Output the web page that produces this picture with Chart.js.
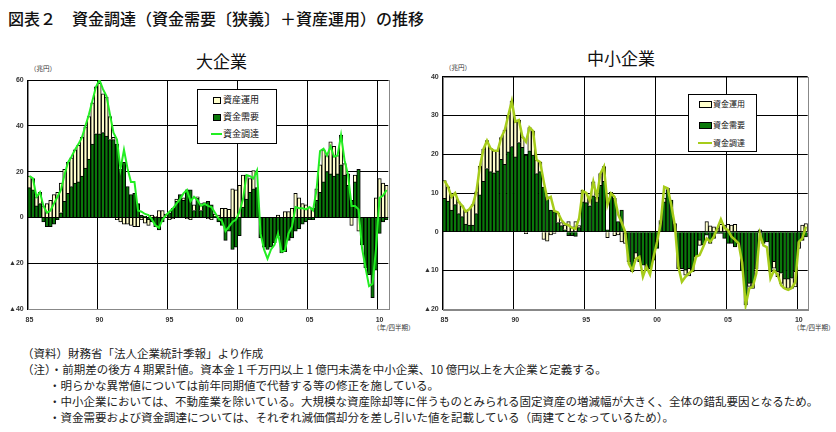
<!DOCTYPE html>
<html lang="ja">
<head>
<meta charset="UTF-8">
<title>図表２ 資金調達の推移</title>
<script src="https://cdn.jsdelivr.net/npm/chart.js@4.4.1/dist/chart.umd.min.js"></script>
<style>
  body { margin: 0; background: #fff; color: #111; font-family: "Noto Sans CJK JP", sans-serif; }
  #page { position: relative; width: 836px; height: 432px; overflow: hidden; }
  .t { position: absolute; white-space: pre; }
  canvas { position: absolute; }
  .legend { position: absolute; border: 1px solid #000; background: #fff; box-sizing: border-box; }
  .legend .row { position: absolute; left: 0; right: 0; height: 12px; }
  .legend .sw { position: absolute; top: 3px; height: 5px; border: 1px solid #000; }
  .legend .ln { position: absolute; top: 5px; height: 2px; }
  .legend .lb { position: absolute; top: 0; line-height: 12px; white-space: pre; color: #111; }
  .note { font-size: 11.5px; line-height: 16px; color: #222; }
</style>
</head>
<body>
<div id="page">
  <div class="t" style="left:8px;top:8px;font-size:16px;line-height:20px;font-weight:500;">図表２　資金調達（資金需要〔狭義〕＋資産運用）の推移</div>

  <div class="t" style="left:196px;top:50px;font-size:17px;line-height:22px;">大企業</div>
  <div class="t" style="left:587px;top:47px;font-size:17px;line-height:22px;">中小企業</div>

  <div class="t" style="left:30px;top:64px;font-size:6.5px;line-height:9px;color:#333;">（兆円）</div>
  <div class="t" style="left:445px;top:63px;font-size:6.5px;line-height:9px;color:#333;">（兆円）</div>
  <div class="t" style="left:373px;top:323px;font-size:6.5px;line-height:9px;color:#333;">（年/四半期）</div>
  <div class="t" style="left:793px;top:323px;font-size:6.5px;line-height:9px;color:#333;">（年/四半期）</div>

  <canvas id="large" width="400" height="260" style="left:0;top:70px;"></canvas>
  <canvas id="sme" width="420" height="264" style="left:410px;top:66px;"></canvas>

  <div class="legend" style="left:197px;top:89px;width:80px;height:55px;">
    <div class="row" style="top:4px;"><div class="sw" style="left:15px;width:6px;background:#ffffcc;"></div><div class="lb" style="left:25px;font-size:9px;">資産運用</div></div>
    <div class="row" style="top:21px;"><div class="sw" style="left:15px;width:6px;background:#0a780a;"></div><div class="lb" style="left:25px;font-size:9px;">資金需要</div></div>
    <div class="row" style="top:38px;"><div class="ln" style="left:13px;width:11px;background:#22ee22;"></div><div class="lb" style="left:25px;font-size:9px;">資金調達</div></div>
  </div>

  <div class="legend" style="left:688px;top:94px;width:69px;height:58px;">
    <div class="row" style="top:3px;"><div class="sw" style="left:10px;width:11px;background:#ffffcc;"></div><div class="lb" style="left:24px;font-size:8px;">資金運用</div></div>
    <div class="row" style="top:24px;"><div class="sw" style="left:10px;width:11px;background:#0a780a;"></div><div class="lb" style="left:24px;font-size:8px;">資金需要</div></div>
    <div class="row" style="top:42px;"><div class="ln" style="left:9px;width:14px;background:#a6cc1a;"></div><div class="lb" style="left:24px;font-size:8px;">資金調達</div></div>
  </div>

  <div class="t note" style="left:22px;top:345px;">（資料）財務省「法人企業統計季報」より作成</div>
  <div class="t note" style="left:22px;top:361px;">（注）・前期差の後方 4 期累計値。資本金 1 千万円以上 1 億円未満を中小企業、10 億円以上を大企業と定義する。</div>
  <div class="t note" style="left:49px;top:377px;">・明らかな異常値については前年同期値で代替する等の修正を施している。</div>
  <div class="t note" style="left:49px;top:393px;">・中小企業においては、不動産業を除いている。大規模な資産除却等に伴うものとみられる固定資産の増減幅が大きく、全体の錯乱要因となるため。</div>
  <div class="t note" style="left:49px;top:409px;">・資金需要および資金調達については、それぞれ減価償却分を差し引いた値を記載している（両建てとなっているため）。</div>
</div>

<script>
  // ---------------- data (quarterly, 1985 Q1 - 2010 Q3) ---------------- //
  const yearTicks = ['85', '90', '95', '00', '05', '10'];  // one every 20 quarters
  const quarters = [];
  for (let i = 0; i < 103; i++) {
    quarters.push((1985 + Math.floor(i / 4)) + 'Q' + (i % 4 + 1));
  }

  // 大企業 (兆円)
  const largeDemand = [
    13, 12, 5, 6, -2, -4, -4, -3, -1, 2,
    7, 10.5, 13.5, 15, 15.5, 18, 21.5, 25.5, 32, 36.5,
    36.5, 37, 35.5, 34, 34, 32, 21, 24, 13.5, 10,
    10.5, 6, 1, 0.5, -1, -2, -4, -5.5, -2, 0,
    2, 4, 7, 10, 7.5, 12, 12, 3, 8.5, 3,
    6, 7, 5.5, 0.5, -2, -3.5, -10, -6, -14, -13,
    -8, 4.5, 8, 11, 12.5, 13, -9, -13, -14, -13,
    -11, -8, -15.5, -15, -10, -9, -6, -5, -3, -2,
    -1, -1, 7.5, 11, 15.5, 20, 19, 18, 19, 23,
    18.5, 14, 7.5, 15.5, 21, -12, -22, -25, -35, -23,
    -7, -2, -1
  ];
  const largeAsset = [
    5, 5, 4, 5, 5, 6, 7.5, 10, 11, 13,
    14, 13.5, 12.5, 14.5, 16, 17, 18, 18.5, 18, 20.5,
    22, 17, 17, 10, 1, -1, -2, -3, -3, -3.5,
    -4, -4, -1, -2.5, -2.5, 1, 0.5, 3, 3, 1.5,
    -1, -0.5, 1, 0, 1, -0.5, -1, 2.5, 0.5, 3,
    0.5, -0.5, -1, 1, 1, 4, 4, 3.5, 12.5, 12,
    14, 14, 10.5, 6, 8, 0, 0, 0, 0, 0,
    0, 1, 0, 2.5, 2.5, 4, 10.5, 8.5, 6, 5.5,
    4.5, 4, 5, 12, 14, 7, 14, 13, 8, 13,
    5, 5, -3.5, 3, -6, 0, 0, 0, 0, 8.5,
    17, 15, 14
  ];
  const largeFunding = [
    18, 17, 9, 11, 5, 2, 3, 6, 9, 12,
    18.5, 24, 26.5, 29.5, 32, 35, 40, 45, 51, 57,
    60, 56, 53, 45, 37, 34, 21, 29.5, 21.5, 15.5,
    15.5, 3, 2.5, 1.5, 1, -1, -3.5, -4.5, -1, 1,
    2.5, 4, 6, 8, 10.5, 12, 7, 9, 7.5, 5,
    6, 5, 4.5, 2, -0.5, -1.5, -6, -4, -2, -1,
    2.5, 8, 18.5, 18, 17, 20.5, -7, -14, -18, -14,
    -12, -7, -15, -14.5, -7, -4, 4.5, 4, 4, 3.5,
    4.5, 3, 12, 29, 30, 27, 31, 26.5, 27, 36,
    25, 18.5, 5, 5, 3.5, -13.5, -22, -30, -29, -13.5,
    8.5, 9.5, 12
  ];

  // 中小企業 (兆円)
  const smeDemand = [
    8.6, 7.9, 5.6, 7, 4.7, 3.9, 2, 1.7, 1.7, 4.7,
    9.5, 13, 16.3, 15.5, 15.2, 15.7, 18.7, 17.4, 20.6, 22,
    19.3, 23, 21.8, 19.8, 20.9, 19.8, 15, 15.5, 11.5, 9,
    5.6, 5.2, 2.4, 1.6, 0.5, -1, -1, -1.2, 1.1, 7.7,
    7.5, 6.7, 9.3, 7.7, 12, 13, 0.5, 9.9, 8.6, 2.6,
    5.6, -0.5, -7.7, -10.3, -5.5, -7.7, -8.6, -9, -9.5, -7.3,
    -4.3, 2.6, 7.7, 10.7, 8.2, 2.1, -9.5, -9.5, -9.9, -9.5,
    -10.3, -6.4, -2.2, -3.4, -0.9, -3, -1.7, -0.4, -0.4, -1.7,
    -3, -3, -3.9, -3, -10, -18.9, -13.3, -13.3, -9.5, -0.3,
    -3, -2.6, -10.3, -7.7, -10.3, -10.7, -12.2, -12.2, -12, -10.3,
    -2.6, -2.2, -1.3
  ];
  const smeAsset = [
    4.6, 3.7, 3.4, 3, 3, 2.8, 3.2, 4.1, 5.3, 5.6,
    7.4, 8.3, 7.2, 6, 5.7, 5.2, 5.6, 8.8, 9.4, 11.7,
    9, 5.8, 2.7, -0.5, 6, 6.2, 3.5, 2.5, -2, -2.4,
    -0.8, -0.4, 2.4, 0.8, 1.2, 2.6, 1.3, 2.6, 0.5, 3,
    2.5, 1.7, 3.6, 1.2, 3, 3.8, -1.5, 0.3, -1, -0.8,
    -2.6, -2.5, 0, 0, -1.5, 0, 0, -0.5, 0, 0,
    0, 0.3, 1, 0.5, 0, 0, 0, 0, -1.3, -1.9,
    0, 0, -1.3, 0, 2.6, 1.5, 1.3, 0.9, 1.9, 1.7,
    1.9, 1.7, 1.9, 0, 0, 0, -0.8, -1.3, 0, 0.5,
    0, 0, 0, -1.7, -1.3, -2.6, -2.4, -2.4, -2.6, -3.9,
    -1.7, 1.7, 2.1
  ];
  const smeFunding = [
    13.2, 11.6, 9, 10, 7.7, 6.7, 5.2, 5.8, 7, 10.3,
    16.9, 21.3, 23.5, 21.5, 20.9, 20.9, 24.3, 26.2, 30, 33.7,
    28.4, 28.8, 24.5, 23.2, 26.9, 26, 18.5, 18, 13, 8.5,
    9, 5.4, 5, 3, 2, 1.7, 1, 0.8, 3.5, 10.5,
    10, 8, 12.9, 9, 15, 16.8, 7, 9.9, 9, 4.5,
    2.4, 0, -8.2, -10, -7, -6.5, -11.6, -9, -11, -6.5,
    -2.6, 2.1, 11.6, 11.2, 6.9, 1.7, -9, -12.9, -11.6, -10.7,
    -10, -6.4, -6, -3.9, -1.7, -2.6, -1.3, 0.9, 3.2, 1,
    0.4, -1.3, -2.1, -3, -8, -18.9, -14.6, -14.2, -10.7, -0.5,
    -3.5, -4, -12, -10, -11, -13.8, -14.6, -15, -14.5, -13,
    -2.6, -1.7, 1.3
  ];

  // ---------------- charts ---------------- //
  const tickFont = { family: "'Liberation Sans', 'Noto Sans CJK JP', sans-serif", size: 7, weight: 'bold' };

  // grey outer frame, drawn under the grid
  const framePlugin = {
    id: 'frame',
    beforeDraw(chart) {
      const a = chart.chartArea, c = chart.ctx;
      c.save();
      c.strokeStyle = '#888';
      c.lineWidth = 1;
      c.strokeRect(Math.round(a.left) + 0.5, Math.round(a.top) + 0.5,
                   Math.round(a.right - a.left), Math.round(a.bottom - a.top));
      c.restore();
    }
  };

  function makeChart(id, demand, asset, funding, lineColor, lineWidth, yMin, yMax, step, axisW, axisH, pad) {
    return new Chart(document.getElementById(id), {
      data: {
        labels: quarters,
        datasets: [
          { type: 'line', label: '資金調達', data: funding, borderColor: lineColor, borderWidth: lineWidth,
            pointRadius: 0, tension: 0, stack: 'line', order: 0 },
          { type: 'bar', label: '資金需要', data: demand, backgroundColor: '#0a780a',
            borderColor: '#000', borderWidth: 1, barPercentage: 1, categoryPercentage: 1, stack: 'bars', order: 1 },
          { type: 'bar', label: '資産運用', data: asset, backgroundColor: '#ffffcc',
            borderColor: '#000', borderWidth: 1, barPercentage: 1, categoryPercentage: 1, stack: 'bars', order: 1 }
        ]
      },
      options: {
        responsive: false,
        animation: false,
        devicePixelRatio: 1,
        layout: { padding: pad },
        plugins: { legend: { display: false }, tooltip: { enabled: false } },
        scales: {
          x: {
            stacked: true,
            offset: true,
            afterFit: (s) => { s.height = axisH; },
            grid: {
              offset: true,
              drawTicks: false,
              color: (ctx) => (ctx.index > 0 && ctx.index < quarters.length && ctx.index % 20 === 0) ? '#000' : 'rgba(0,0,0,0)'
            },
            border: { color: '#888' },
            ticks: {
              autoSkip: false, maxRotation: 0, minRotation: 0, padding: 7,
              font: tickFont, color: '#333',
              callback: (v, i) => (i % 20 === 0 ? yearTicks[i / 20] : '')
            }
          },
          y: {
            stacked: true,
            min: yMin, max: yMax,
            afterFit: (s) => { s.width = axisW; },
            grid: { drawTicks: false, color: (ctx) => (ctx.tick.value === yMin ? '#888' : '#000') },
            border: { color: '#000' },
            ticks: {
              stepSize: step, padding: 4, font: tickFont, color: '#333',
              callback: (v) => (v < 0 ? '▲' + Math.abs(v) : String(v))
            }
          }
        }
      },
      plugins: [framePlugin]
    });
  }

  makeChart('large', largeDemand, largeAsset, largeFunding, '#22ee22', 2,
            -40, 60, 20, 27.7, 21, { left: 0, top: 10, right: 11.7, bottom: 0 });
  makeChart('sme', smeDemand, smeAsset, smeFunding, '#a6cc1a', 2.5,
            -20, 40, 10, 32.7, 20.7, { left: 0, top: 10.7, right: 22.3, bottom: 0 });
</script>
</body>
</html>
